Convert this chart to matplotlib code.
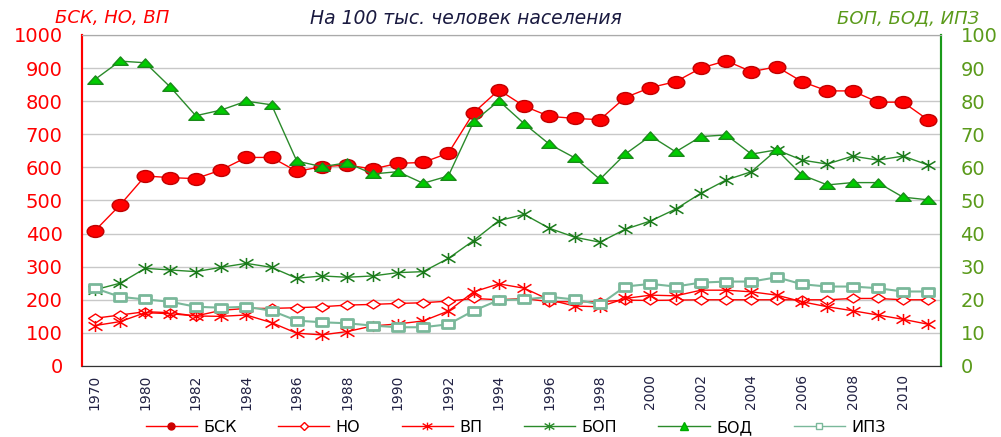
import numpy as np
import matplotlib.pyplot as plt
from matplotlib.lines import Line2D
from matplotlib.path import Path

years = ['1970', '1975'] + [str(y) for y in range(1980, 2012)]

bsk = [408, 486, 574, 569, 566, 592, 630, 630, 588, 602, 607, 595, 612, 615, 643, 765,
       834, 785, 754, 748, 744, 811, 841, 859, 900, 922, 889, 904, 859, 831, 831, 797, 797, 743]
no = [144, 154, 164, 161, 151, 168, 174, 174, 176, 179, 184, 186, 189, 191, 196, 204,
      200, 204, 194, 194, 194, 199, 198, 199, 200, 200, 200, 200, 200, 200, 204, 204, 200, 200]
vp = [122, 134, 161, 158, 151, 150, 154, 131, 99, 94, 104, 121, 127, 136, 166, 224,
      248, 235, 200, 181, 179, 204, 214, 212, 229, 229, 224, 214, 194, 179, 167, 154, 141, 126]

bop = [23, 25, 29.5, 29, 28.5, 29.8, 31, 29.8, 26.5, 27.2, 26.8, 27.2, 28.2, 28.5, 32.5, 37.9,
       43.9, 45.8, 41.6, 38.9, 37.4, 41.3, 43.8, 47.4, 52.2, 56.2, 58.7, 65.3, 62.2, 61, 63.4, 62.2, 63.4, 60.7]
bod = [86.5, 92.1, 91.6, 84.2, 75.6, 77.3, 80, 78.9, 61.9, 60.2, 61.4, 58, 58.7, 55.2, 57.4, 73.8,
       80.1, 73.2, 67, 62.9, 56.4, 64, 69.5, 64.7, 69.3, 69.8, 64, 65.3, 57.7, 54.7, 55.4, 55.4, 51, 50.2]
ipz = [23.5, 20.9, 20.1, 19.4, 17.9, 17.6, 17.9, 16.7, 13.7, 13.2, 12.9, 12.2, 11.7, 11.7, 12.6, 16.7,
       19.9, 20.1, 20.9, 20.1, 18.6, 24, 24.8, 24, 25.2, 25.5, 25.5, 26.8, 24.7, 24, 24, 23.5, 22.5, 22.5]

x = np.arange(len(years))
red = '#ff0000'
green_dark = '#2a8a2a'
green_tick = '#5a9a1a'

# the picture is stretched sideways, so the markers are wider than tall
circ = Path.unit_circle()
ellipse = Path(circ.vertices * [1.4, 1.0], circ.codes)
tri = Path([(-1, -0.5), (1, -0.5), (0, 0.6), (-1, -0.5)], closed=True)
diam = Path([(0, -0.65), (1, 0), (0, 0.65), (-1, 0), (0, -0.65)], closed=True)
sq = Path([(-1, -0.75), (1, -0.75), (1, 0.75), (-1, 0.75), (-1, -0.75)], closed=True)
star = Path([(0, -0.8), (0, 0.8), (-1, -0.6), (1, 0.6), (-1, 0.6), (1, -0.6)],
            [Path.MOVETO, Path.LINETO] * 3)

fig = plt.figure(figsize=(10.01, 4.37), dpi=100)
ax = fig.add_axes([0.082, 0.1625, 0.858, 0.7575])
ax2 = ax.twinx()

ax.plot(x, bsk, color=red, lw=1, marker=ellipse, ms=12, mfc=red, mec='#c00000', zorder=5)
ax.plot(x, no, color=red, lw=1, marker=diam, ms=10, mfc='white', mec=red, zorder=4)
ax.plot(x, vp, color=red, lw=1, marker=star, ms=10, mfc='none', mec=red, mew=1.1, zorder=4)

ax2.plot(x, bop, color=green_dark, lw=1, marker=star, ms=10, mfc='none', mec='#1a7a1a', mew=1.1)
ax2.plot(x, bod, color=green_dark, lw=1, marker=tri, ms=11, mfc='#00cc00', mec='#1a8a1a')
ax2.plot(x, ipz, color='#7ab89a', lw=1.5, marker=sq, ms=8.5, mfc='white', mec='#7ab89a', mew=2)

ax.set_xlim(-0.5, len(years) - 0.5)
ax.set_ylim(0, 1000)
ax2.set_ylim(0, 100)
ax.set_yticks(range(0, 1001, 100))
ax2.set_yticks(range(0, 101, 10))
ax.grid(axis='y', color='#c8c8c8', lw=1)
ax.set_axisbelow(True)

ax.set_xticks(x[::2])
ax.set_xticklabels(years[::2], rotation=90, fontsize=10, color='#222244')
ax.tick_params(axis='x', length=0, pad=6)
ax.tick_params(axis='y', colors=red, labelsize=14, length=0, pad=14)
ax2.tick_params(axis='y', colors=green_tick, labelsize=14, length=0, pad=14)

for a in (ax, ax2):
    a.spines['top'].set_color('#aaaaaa')
    a.spines['bottom'].set_color('#333333')
    a.spines['left'].set_color(red)
    a.spines['right'].set_color('#1a9a1a')
    a.spines['left'].set_linewidth(1.5)
    a.spines['right'].set_linewidth(1.5)

fig.text(0.465, 0.958, 'На 100 тыс. человек населения', ha='center', va='center',
         fontsize=13.5, style='italic', color='#1a1a40')
fig.text(0.055, 0.958, 'БСК, НО, ВП', ha='left', va='center', fontsize=13,
         style='italic', color=red)
fig.text(0.978, 0.958, 'БОП, БОД, ИПЗ', ha='right', va='center', fontsize=13,
         style='italic', color=green_tick)

handles = [
    Line2D([], [], color=red, lw=1, marker='o', ms=5, mfc='#cc0000', mec='#cc0000'),
    Line2D([], [], color=red, lw=1, marker='D', ms=4, mfc='white', mec=red),
    Line2D([], [], color=red, lw=1, marker=star, ms=7, mfc='none', mec=red),
    Line2D([], [], color=green_dark, lw=1, marker=star, ms=7, mfc='none', mec=green_dark),
    Line2D([], [], color=green_dark, lw=1, marker='^', ms=6, mfc='#00cc00', mec='#00aa00'),
    Line2D([], [], color='#7ab89a', lw=1, marker='s', ms=5, mfc='white', mec='#7ab89a'),
]
labels = ['БСК', 'НО', 'ВП', 'БОП', 'БОД', 'ИПЗ']
fig.legend(handles, labels, loc='center', bbox_to_anchor=(0.515, 0.022), ncol=6,
           frameon=False, fontsize=11.5, handlelength=3.2, columnspacing=2.6, handletextpad=0.4)

fig.savefig('out.png', dpi=100)
